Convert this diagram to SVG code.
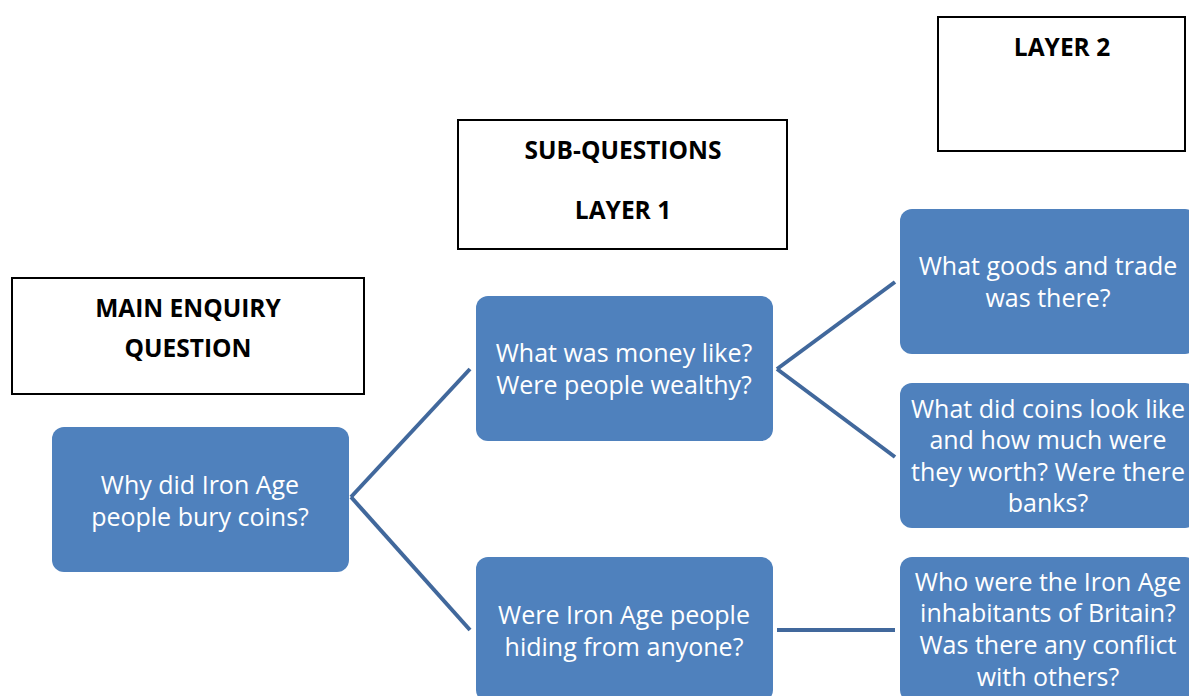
<svg xmlns="http://www.w3.org/2000/svg" width="1189" height="696" viewBox="0 0 1189 696">
<style>
.node rect{fill:#4F81BD;}
.node text{fill:#fff;font-family:"Open Sans","Noto Sans",sans-serif;font-size:25px;text-anchor:middle;}
.lbl rect{fill:#fff;stroke:#000;stroke-width:2;}
.lbl text{fill:#000;font-family:"Open Sans","Noto Sans",sans-serif;font-size:24.5px;font-weight:bold;text-anchor:middle;}
.conn line{stroke:#41689C;stroke-width:4;}
</style>
<rect width="1189" height="696" fill="#fff"/>
<g id="label-main" class="lbl"><rect x="12" y="278" width="352" height="116"/><text x="188" y="317">MAIN ENQUIRY</text><text x="188" y="357">QUESTION</text></g>
<g id="label-layer1" class="lbl"><rect x="458" y="120" width="329" height="129"/><text x="623" y="159">SUB-QUESTIONS</text><text x="623" y="219">LAYER 1</text></g>
<g id="label-layer2" class="lbl"><rect x="938" y="17" width="247" height="134"/><text x="1062" y="56">LAYER 2</text></g>
<g class="conn" id="connectors">
<line x1="351" y1="497" x2="470" y2="369"/>
<line x1="351" y1="497" x2="470" y2="630"/>
<line x1="777" y1="369" x2="895" y2="282"/>
<line x1="777" y1="369" x2="895" y2="457"/>
<line x1="777" y1="630" x2="895" y2="630"/>
</g>
<g id="n-main" class="node"><rect x="52" y="427" width="297" height="145" rx="12"/><text x="200" y="494">Why did Iron Age</text><text x="200" y="526">people bury coins?</text></g>
<g id="n-money" class="node"><rect x="476" y="296" width="297" height="145" rx="12"/><text x="624" y="362">What was money like?</text><text x="624" y="394">Were people wealthy?</text></g>
<g id="n-hiding" class="node"><rect x="476" y="557" width="297" height="145" rx="12"/><text x="624" y="624">Were Iron Age people</text><text x="624" y="656">hiding from anyone?</text></g>
<g id="n-goods" class="node"><rect x="900" y="209" width="297" height="145" rx="12"/><text x="1048" y="275">What goods and trade</text><text x="1048" y="307">was there?</text></g>
<g id="n-coins" class="node"><rect x="900" y="383" width="297" height="145" rx="12"/><text x="1048" y="418">What did coins look like</text><text x="1048" y="449">and how much were</text><text x="1048" y="481">they worth? Were there</text><text x="1048" y="512">banks?</text></g>
<g id="n-inhab" class="node"><rect x="900" y="557" width="297" height="145" rx="12"/><text x="1048" y="591">Who were the Iron Age</text><text x="1048" y="622">inhabitants of Britain?</text><text x="1048" y="654">Was there any conflict</text><text x="1048" y="686">with others?</text></g>
</svg>
